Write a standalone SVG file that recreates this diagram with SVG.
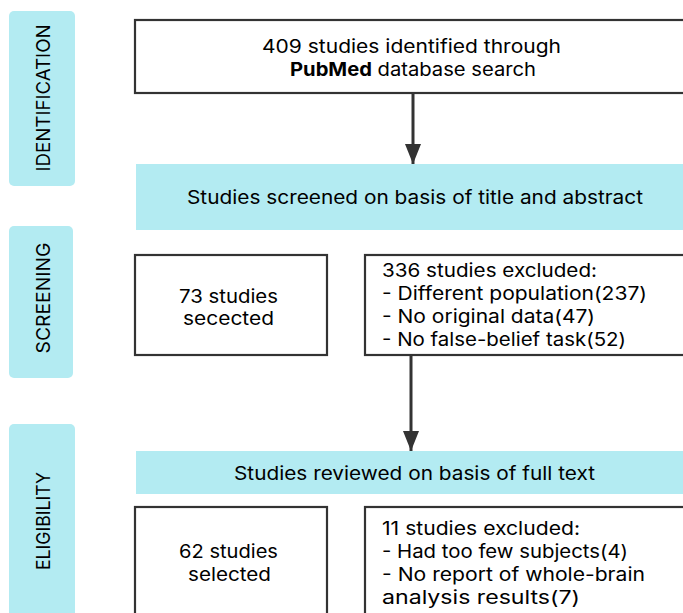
<svg xmlns="http://www.w3.org/2000/svg" width="683" height="613" viewBox="0 0 683 613">
<defs>
<style>
.stage{fill:#b3ebf2;}
.box{fill:#ffffff;stroke:#333333;stroke-width:2.2;}
.band{fill:#b3ebf2;}
text{font-family:Inter,"Open Sans","Liberation Sans",sans-serif;font-size:18.6px;fill:#000;}
.c{text-anchor:middle;}
.lab{font-size:19px;text-anchor:middle;}
.conn{stroke:#333;stroke-width:3;fill:none;}
</style>
<marker id="ah" viewBox="0 0 20 16" refX="20" refY="8" markerWidth="20" markerHeight="16" markerUnits="userSpaceOnUse" orient="auto">
<path d="M0,0 L20,8 L0,16 Z" fill="#333"/>
</marker>
</defs>
<rect width="683" height="613" fill="#ffffff"/>
<g id="stage-identification">
<rect class="stage" x="9" y="11" width="66" height="175" rx="5"/>
<text class="lab" transform="translate(50,98) rotate(-90)" textLength="147" lengthAdjust="spacingAndGlyphs">IDENTIFICATION</text>
</g>
<g id="stage-screening">
<rect class="stage" x="9" y="226" width="64" height="152" rx="5"/>
<text class="lab" transform="translate(50,298) rotate(-90)" textLength="111" lengthAdjust="spacingAndGlyphs">SCREENING</text>
</g>
<g id="stage-eligibility">
<rect class="stage" x="9" y="424" width="66" height="200" rx="5"/>
<text class="lab" transform="translate(50,521) rotate(-90)" textLength="98" lengthAdjust="spacingAndGlyphs">ELIGIBILITY</text>
</g>
<g id="identified">
<rect class="box" x="135" y="20" width="552" height="73"/>
<text class="c" x="411.5" y="53" textLength="299" lengthAdjust="spacingAndGlyphs">409 studies identified through</text>
<text class="c" x="413" y="76" textLength="246" lengthAdjust="spacingAndGlyphs"><tspan font-weight="bold">PubMed</tspan> database search</text>
</g>
<g id="screened">
<rect class="band" x="136" y="164" width="560" height="66"/>
<text class="c" x="415" y="204" textLength="456" lengthAdjust="spacingAndGlyphs">Studies screened on basis of title and abstract</text>
</g>
<g id="selected-73">
<rect class="box" x="135" y="255" width="192" height="100"/>
<text class="c" x="228.5" y="303" textLength="99" lengthAdjust="spacingAndGlyphs">73 studies</text>
<text class="c" x="228.5" y="325" textLength="91" lengthAdjust="spacingAndGlyphs">secected</text>
</g>
<g id="excluded-336">
<rect class="box" x="365" y="255" width="330" height="100"/>
<text x="382" y="277" textLength="215" lengthAdjust="spacingAndGlyphs">336 studies excluded:</text>
<text x="382" y="300" textLength="265" lengthAdjust="spacingAndGlyphs">- Different population(237)</text>
<text x="382" y="323" textLength="213" lengthAdjust="spacingAndGlyphs">- No original data(47)</text>
<text x="382" y="346" textLength="244" lengthAdjust="spacingAndGlyphs">- No false-belief task(52)</text>
</g>
<g id="reviewed">
<rect class="band" x="136" y="451" width="560" height="43"/>
<text class="c" x="414.5" y="480" textLength="361" lengthAdjust="spacingAndGlyphs">Studies reviewed on basis of full text</text>
</g>
<g id="selected-62">
<rect class="box" x="135" y="507" width="192" height="120"/>
<text class="c" x="228.5" y="558" textLength="99" lengthAdjust="spacingAndGlyphs">62 studies</text>
<text class="c" x="229.5" y="581" textLength="83" lengthAdjust="spacingAndGlyphs">selected</text>
</g>
<g id="excluded-11">
<rect class="box" x="365" y="507" width="330" height="120"/>
<text x="382" y="535" textLength="198" lengthAdjust="spacingAndGlyphs">11 studies excluded:</text>
<text x="382" y="558" textLength="246" lengthAdjust="spacingAndGlyphs">- Had too few subjects(4)</text>
<text x="382" y="581" textLength="263" lengthAdjust="spacingAndGlyphs">- No report of whole-brain</text>
<text x="382" y="604" textLength="198" lengthAdjust="spacingAndGlyphs">analysis results(7)</text>
</g>
<g id="connectors">
<line class="conn" x1="413" y1="93" x2="413" y2="164" marker-end="url(#ah)"/>
<line class="conn" x1="411" y1="355" x2="411" y2="451" marker-end="url(#ah)"/>
</g>
</svg>
